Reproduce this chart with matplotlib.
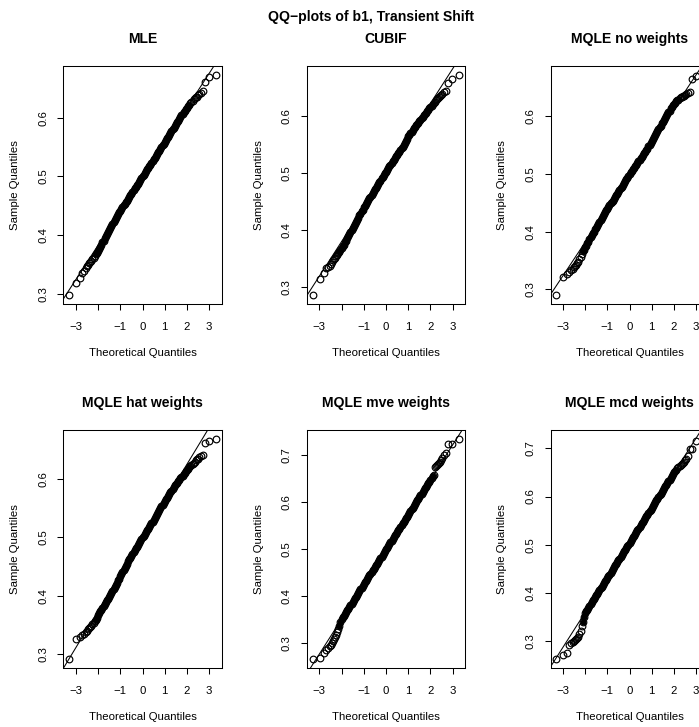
import numpy as np
import matplotlib
matplotlib.use('Agg')
import matplotlib.pyplot as plt
from matplotlib.ticker import MultipleLocator, FormatStrFormatter

plt.rcParams['font.family'] = ['Liberation Sans', 'DejaVu Sans']

# theoretical quantiles at which the sample quantiles were read
z_lo = [-3.29, -2.97, -2.81, -2.70, -2.61, -2.54, -2.48, -2.43, -2.39, -2.35]
z_mid = np.round(np.linspace(-2.30, 2.30, 93), 2)
z_hi = [2.35, 2.39, 2.43, 2.48, 2.54, 2.61, 2.70, 2.81, 2.97, 3.29]

mle = [0.298, 0.318, 0.327, 0.335, 0.340, 0.344, 0.347, 0.350, 0.353, 0.355,
       0.356, 0.359, 0.362, 0.365, 0.368, 0.370, 0.373,
       0.377, 0.380, 0.384, 0.388, 0.391, 0.395, 0.398, 0.402, 0.405, 0.409,
       0.412, 0.416, 0.419, 0.422, 0.426, 0.429, 0.432, 0.436, 0.439, 0.442,
       0.445, 0.448, 0.451, 0.454, 0.457, 0.459,
       0.462, 0.465, 0.468, 0.471, 0.474, 0.477, 0.480, 0.482, 0.485, 0.488, 0.491, 0.494, 0.497, 0.500,
       0.503, 0.506, 0.509, 0.512, 0.515, 0.518, 0.520, 0.523, 0.526, 0.529, 0.532, 0.535, 0.538, 0.541,
       0.544, 0.547, 0.550, 0.553, 0.556, 0.559,
       0.562, 0.565, 0.568, 0.571, 0.574, 0.577, 0.580, 0.583, 0.586, 0.589,
       0.592, 0.595, 0.598, 0.601, 0.604, 0.607,
       0.609, 0.612, 0.615, 0.617,
       0.620, 0.622, 0.625, 0.627, 0.629, 0.631,
       0.633, 0.635, 0.636, 0.638, 0.640, 0.642, 0.645, 0.661, 0.669, 0.673]

cubif = [0.286, 0.314, 0.325, 0.334, 0.336, 0.338, 0.341, 0.344, 0.347, 0.349,
         0.352, 0.355, 0.357, 0.360, 0.362, 0.365, 0.368,
         0.372, 0.375, 0.379, 0.382, 0.386, 0.390, 0.393, 0.397, 0.400, 0.404,
         0.408, 0.411, 0.415, 0.418, 0.422, 0.426, 0.429, 0.433, 0.436, 0.440,
         0.443, 0.446, 0.450, 0.453, 0.456, 0.459, 0.462, 0.465, 0.469, 0.472,
         0.475, 0.478, 0.481, 0.484, 0.487, 0.491, 0.494, 0.497, 0.500, 0.503,
         0.506, 0.509, 0.512, 0.515, 0.518, 0.521, 0.524, 0.527, 0.530, 0.533,
         0.535, 0.538, 0.541, 0.544, 0.547, 0.550, 0.553, 0.557, 0.561, 0.565,
         0.568, 0.570, 0.573, 0.576, 0.579, 0.581, 0.584, 0.587, 0.589, 0.592,
         0.594, 0.597, 0.599, 0.602, 0.604, 0.606, 0.609, 0.611, 0.614, 0.616,
         0.618, 0.621, 0.623, 0.625, 0.628, 0.630,
         0.632, 0.634, 0.636, 0.638, 0.640, 0.642, 0.644, 0.659, 0.666, 0.673]

mqle_no = [0.290, 0.322, 0.327, 0.330, 0.333, 0.336, 0.338, 0.340, 0.342, 0.345,
           0.348, 0.353, 0.357, 0.362, 0.366,
           0.369, 0.373, 0.376, 0.380, 0.383, 0.387, 0.390, 0.394, 0.397,
           0.400, 0.404, 0.407, 0.410, 0.414, 0.417, 0.420, 0.424, 0.427, 0.430, 0.434, 0.437,
           0.440, 0.443, 0.446, 0.449, 0.451, 0.454, 0.457, 0.460, 0.463, 0.466, 0.469, 0.472,
           0.475, 0.478, 0.481, 0.484, 0.488, 0.491, 0.494, 0.497, 0.500,
           0.503, 0.505, 0.508, 0.511, 0.514, 0.516, 0.519, 0.522, 0.525, 0.527, 0.530, 0.533, 0.536, 0.538, 0.541,
           0.544, 0.548, 0.551, 0.554, 0.558, 0.561, 0.564, 0.568, 0.571, 0.574, 0.578, 0.581,
           0.584, 0.588, 0.591, 0.594, 0.597, 0.601, 0.604, 0.607, 0.610, 0.614, 0.617, 0.620,
           0.622, 0.624, 0.626, 0.628, 0.629, 0.631, 0.633,
           0.634, 0.635, 0.636, 0.637, 0.639, 0.641, 0.643, 0.665, 0.670, 0.672]

mqle_hat = [0.291, 0.325, 0.329, 0.332, 0.335, 0.338, 0.340, 0.342, 0.344, 0.346,
            0.348, 0.351, 0.353, 0.356, 0.358, 0.361,
            0.366, 0.370, 0.373, 0.376, 0.379, 0.382,
            0.386, 0.389, 0.392, 0.395, 0.398, 0.401, 0.405, 0.408, 0.411,
            0.415, 0.418, 0.422, 0.426, 0.429, 0.433, 0.437, 0.440, 0.444, 0.448, 0.451, 0.455,
            0.459, 0.462, 0.465, 0.468, 0.472, 0.475, 0.478, 0.481, 0.484, 0.487, 0.491, 0.494, 0.497, 0.500,
            0.503, 0.506, 0.509, 0.512, 0.515, 0.518, 0.521, 0.524, 0.527, 0.530, 0.533, 0.537, 0.540,
            0.544, 0.547, 0.550, 0.553, 0.556, 0.559, 0.562, 0.565, 0.568, 0.571, 0.574, 0.577, 0.580, 0.583, 0.586,
            0.589, 0.591, 0.594, 0.596, 0.599, 0.601, 0.604, 0.606, 0.609, 0.611, 0.614, 0.616,
            0.618, 0.620, 0.622, 0.624, 0.626, 0.628,
            0.630, 0.632, 0.634, 0.635, 0.637, 0.639, 0.641, 0.661, 0.665, 0.669]

mqle_mve = [0.266, 0.268, 0.280, 0.286, 0.290, 0.294, 0.297, 0.300, 0.304, 0.308,
            0.313, 0.318, 0.323, 0.330, 0.337, 0.344,
            0.351, 0.355, 0.358, 0.362, 0.366, 0.370, 0.373, 0.377, 0.381, 0.384,
            0.388, 0.392, 0.395, 0.399, 0.403, 0.407, 0.410, 0.414, 0.418, 0.421,
            0.425, 0.429, 0.432, 0.436, 0.440, 0.444, 0.447, 0.451, 0.455, 0.458,
            0.462, 0.466, 0.469, 0.473, 0.477, 0.481, 0.484, 0.488, 0.492, 0.495,
            0.499, 0.503, 0.506, 0.510, 0.514, 0.518, 0.521, 0.525, 0.529, 0.532,
            0.536, 0.540, 0.543, 0.547, 0.551, 0.555, 0.558, 0.562, 0.566, 0.569,
            0.573, 0.577, 0.580, 0.584, 0.588, 0.592, 0.595, 0.599, 0.603, 0.606,
            0.610, 0.614, 0.617, 0.621, 0.625, 0.629, 0.632, 0.636, 0.640, 0.643,
            0.647,
            0.650, 0.654, 0.658, 0.675, 0.677, 0.679,
            0.681, 0.683, 0.685, 0.688, 0.693, 0.699, 0.703, 0.722, 0.724, 0.734]

mqle_mcd = [0.262, 0.270, 0.275, 0.292, 0.295, 0.297, 0.299, 0.301, 0.303, 0.305,
            0.309, 0.314, 0.320, 0.330, 0.340, 0.350,
            0.358, 0.362, 0.365, 0.369, 0.373, 0.376, 0.380, 0.384, 0.387, 0.391,
            0.395, 0.398, 0.402, 0.405, 0.409, 0.413, 0.416, 0.420, 0.424, 0.427,
            0.431, 0.435, 0.438, 0.442, 0.446, 0.449, 0.453, 0.457, 0.460, 0.464,
            0.468, 0.471, 0.475, 0.478, 0.482, 0.486, 0.489, 0.493, 0.497, 0.500,
            0.504, 0.508, 0.511, 0.515, 0.519, 0.522, 0.526, 0.530, 0.533, 0.537,
            0.541, 0.544, 0.548, 0.551, 0.555, 0.559, 0.562, 0.566, 0.570, 0.573,
            0.577, 0.581, 0.584, 0.588, 0.592, 0.595, 0.599, 0.603, 0.606, 0.610,
            0.614, 0.617, 0.621, 0.624, 0.628, 0.632, 0.635, 0.639, 0.643, 0.646,
            0.650,
            0.653, 0.656, 0.659, 0.662, 0.664, 0.666,
            0.668, 0.670, 0.672, 0.675, 0.678, 0.684, 0.699, 0.699, 0.716, 0.720]

titles = ['MLE', 'CUBIF', 'MQLE no weights',
          'MQLE hat weights', 'MQLE mve weights', 'MQLE mcd weights']
samples = [mle, cubif, mqle_no, mqle_hat, mqle_mve, mqle_mcd]
xtick_vals = [-3, -2, -1, 0, 1, 2, 3]
xtick_labs = ['\u22123', '', '\u22121', '0', '1', '2', '3']

theo = np.concatenate([z_lo, z_mid, z_hi])
# where the points pile up into a solid band
dense = np.abs(theo) <= 2.1

W, H = 699, 727
fig = plt.figure(figsize=(W / 100, H / 100), dpi=100)
fig.patch.set_facecolor('white')

lefts = [63.5, 307, 550.5]
tops = [66, 430]
bw, bh = 158, 238
fs = 8.2
fs_title = 10.1

for i, (ttl, samp) in enumerate(zip(titles, samples)):
    samp = np.asarray(samp)
    row, col = divmod(i, 3)
    ax = fig.add_axes([lefts[col] / W, 1 - (tops[row] + bh) / H, bw / W, bh / H])

    ax.plot(theo[dense], samp[dense], 'o', color='black', ms=4.4, mew=0)
    ax.plot(theo, samp, 'o', mfc='none', mec='black', ms=4.8, mew=0.85)
    ax.margins(0.04)

    # reference line through the quartiles, like qqline
    q1 = np.interp(-0.6745, theo, samp)
    q3 = np.interp(0.6745, theo, samp)
    slope = (q3 - q1) / 1.349
    ax.axline((0, (q1 + q3) / 2), slope=slope, color='black', lw=0.75)

    ax.set_xticks(xtick_vals)
    ax.set_xticklabels(xtick_labs)
    ax.yaxis.set_major_locator(MultipleLocator(0.1))
    ax.yaxis.set_major_formatter(FormatStrFormatter('%.1f'))
    ax.tick_params(direction='out', length=4.3, width=0.75, labelsize=fs,
                   pad=6.5, colors='black')
    ax.tick_params(axis='x', pad=8.5)
    ax.tick_params(axis='y', labelrotation=90)
    for lab in ax.get_yticklabels():
        lab.set_va('center')
    for sp in ax.spines.values():
        sp.set_linewidth(0.75)

    ax.text(0.5, 1 + 27 / bh, ttl, transform=ax.transAxes, ha='center',
            va='center', fontsize=fs_title, fontweight='bold')
    ax.text(0.5, -49 / bh, 'Theoretical Quantiles', transform=ax.transAxes,
            ha='center', va='center', fontsize=fs)
    ax.text(-48.5 / bw, 0.5, 'Sample Quantiles', transform=ax.transAxes,
            ha='center', va='center', rotation=90, fontsize=fs)

fig.text(371 / W, 1 - 17 / H, 'QQ\u2212plots of b1, Transient Shift',
         ha='center', va='center', fontsize=fs_title, fontweight='bold')

fig.savefig('out.png', dpi=100)
